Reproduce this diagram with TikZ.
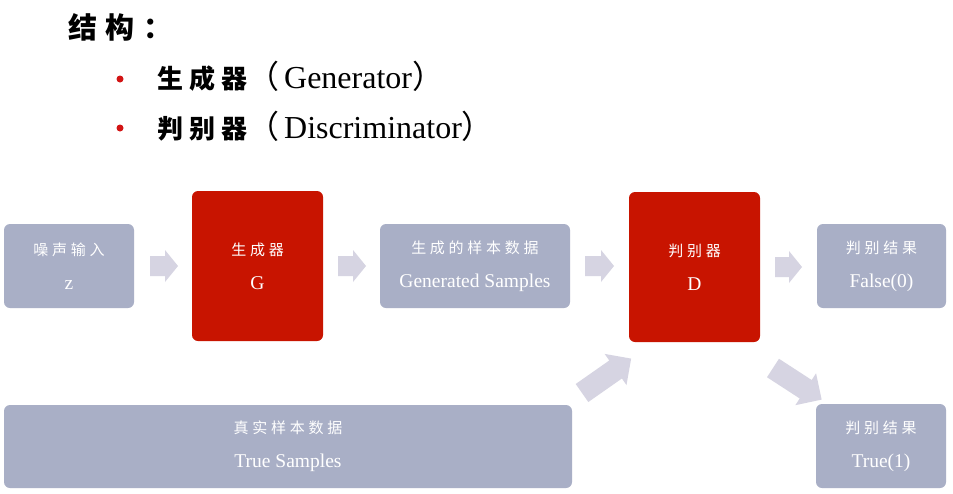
\documentclass[tikz,border=0pt]{standalone}
\usepackage{fontspec}
\setmainfont{Liberation Serif}
\newfontfamily\cjk{Noto Sans CJK SC}
\newfontfamily\cjkbox[LetterSpace=25]{Noto Sans CJK SC}
\newfontfamily\cjktitle[LetterSpace=23]{Noto Sans CJK SC}
\definecolor{boxgray}{RGB}{169,175,198}
\definecolor{boxred}{RGB}{200,20,0}
\definecolor{arrowgray}{RGB}{214,212,226}
\definecolor{bulletred}{RGB}{210,20,20}
% tail x, tail y, angle, length, shaft half, head half, head length
\newcommand{\blkarrow}[7]{%
  \fill[arrowgray, shift={(#1,#2)}, rotate=#3]
    (0,#5) -- ({#4-#7},#5) -- ({#4-#7},#6) -- (#4,0) -- ({#4-#7},-#6) -- ({#4-#7},-#5) -- (0,-#5) -- cycle;}
\tikzset{
  gbox/.style={fill=boxgray, rounded corners=6pt, draw=none, text=white, align=center, inner sep=0pt,
    font=\fontsize{19.5}{24}\selectfont},
  rbox/.style={gbox, fill=boxred},
  titletext/.style={anchor=base west, inner sep=0pt, font=\fontsize{32}{36}\selectfont},
}
\begin{document}
\begin{tikzpicture}[x=1pt,y=-1pt]
\useasboundingbox[fill=white] (0,0) rectangle (953,493);
% title
\node[titletext, font=\fontsize{29}{34}\selectfont] (title) at (68,38) {\bfseries\cjk 结\hspace{8pt}构\hspace{9pt}：};
\fill[bulletred] (120,79) circle (3.5pt) coordinate (b1);
\fill[bulletred] (120,128) circle (3.5pt) coordinate (b2);
\node[titletext] (l1) at (157,88) {{\fontsize{26}{30}\selectfont\bfseries\cjktitle 生成器}{\cjk （}\hspace{5pt}Generator{\cjk ）}};
\node[titletext] (l2) at (157,138) {{\fontsize{26}{30}\selectfont\bfseries\cjktitle 判别器}{\cjk （}\hspace{5pt}Discriminator{\cjk ）}};
% boxes
\node[gbox, minimum width=130pt, minimum height=84pt] (z) at (69,266)
  {{\fontsize{15}{18}\selectfont\cjkbox 噪声输入}\\[10pt] z};
\node[rbox, minimum width=131pt, minimum height=150pt] (G) at (257.5,266)
  {{\fontsize{15}{18}\selectfont\cjkbox 生成器}\\[10pt] G};
\node[gbox, minimum width=190pt, minimum height=84pt] (gen) at (475,266)
  {{\fontsize{15}{18}\selectfont\cjkbox 生成的样本数据}\\[10pt] Generated Samples};
\node[rbox, minimum width=131pt, minimum height=150pt] (D) at (694.5,267)
  {{\fontsize{15}{18}\selectfont\cjkbox 判别器}\\[10pt] D};
\node[gbox, minimum width=129pt, minimum height=84pt] (false) at (881.5,266)
  {{\fontsize{15}{18}\selectfont\cjkbox 判别结果}\\[10pt] False(0)};
\node[gbox, minimum width=568pt, minimum height=83pt] (true) at (288,446.5)
  {{\fontsize{15}{18}\selectfont\cjkbox 真实样本数据}\\[10pt] True Samples};
\node[gbox, minimum width=130pt, minimum height=84pt] (true1) at (881,446)
  {{\fontsize{15}{18}\selectfont\cjkbox 判别结果}\\[10pt] True(1)};
% block arrows
\blkarrow{150}{266}{0}{28}{10}{16}{13}
\blkarrow{338}{266}{0}{28}{10}{16}{13}
\blkarrow{585}{266}{0}{29}{10}{16}{13}
\blkarrow{775}{267}{0}{27}{10}{16}{13}
\blkarrow{582}{393}{35}{60}{11}{19}{19}
\blkarrow{773}{368}{-33}{58}{11}{19}{19}
\end{tikzpicture}
\end{document}
